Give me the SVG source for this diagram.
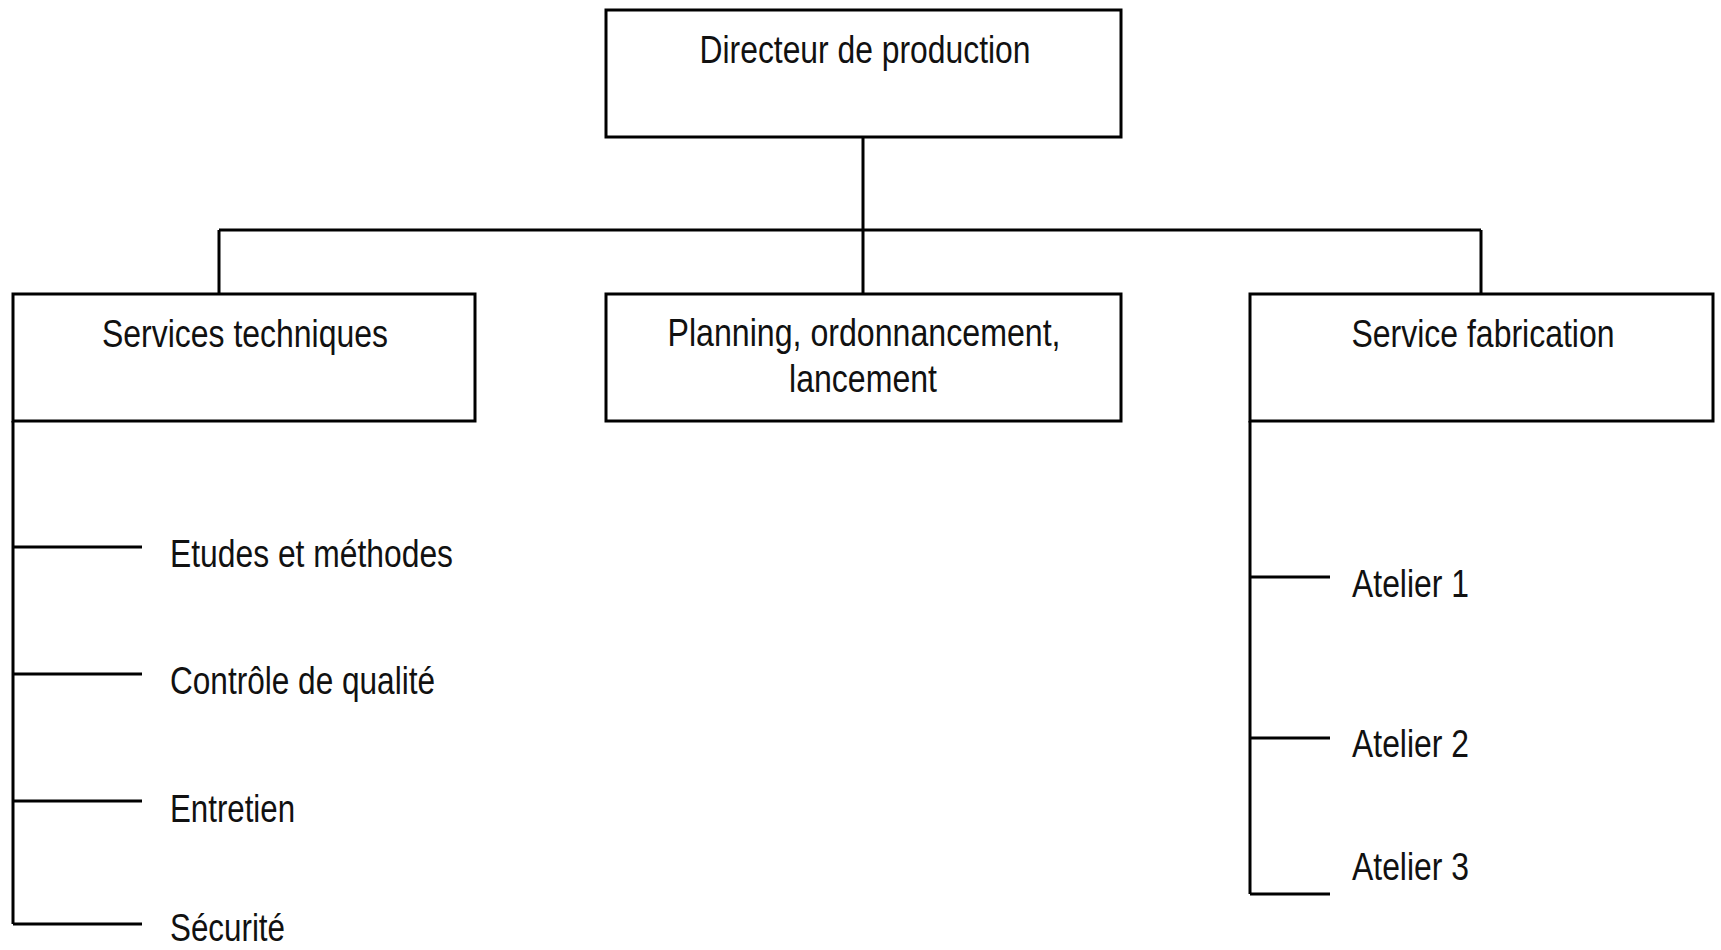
<svg xmlns="http://www.w3.org/2000/svg" width="1721" height="950" viewBox="0 0 1721 950">
<style>
.box{fill:#fff;stroke:#000;stroke-width:3}
.ln{fill:none;stroke:#000;stroke-width:3}
text{font-family:"Liberation Sans",Arial,sans-serif;font-size:38px;fill:#111}
.c{text-anchor:middle}
</style>
<rect width="1721" height="950" fill="#fff"/>
<g id="connectors">
<path class="ln" d="M863 137V230M219 230H1481M219 230V294M863 230V294M1481 230V294"/>
<path class="ln" d="M13 421V924M13 547H142M13 674H142M13 801H142M13 924H142"/>
<path class="ln" d="M1250 421V894M1250 577H1330M1250 738H1330M1250 894H1330"/>
</g>
<g id="directeur">
<rect class="box" x="606" y="10" width="515" height="127"/>
<text class="c" x="865" y="63" textLength="331" lengthAdjust="spacingAndGlyphs">Directeur de production</text>
</g>
<g id="services-techniques">
<rect class="box" x="13" y="294" width="462" height="127"/>
<text class="c" x="245" y="347" textLength="286" lengthAdjust="spacingAndGlyphs">Services techniques</text>
</g>
<g id="planning">
<rect class="box" x="606" y="294" width="515" height="127"/>
<text class="c" x="864" y="346" textLength="393" lengthAdjust="spacingAndGlyphs">Planning, ordonnancement,</text>
<text class="c" x="863" y="392" textLength="148" lengthAdjust="spacingAndGlyphs">lancement</text>
</g>
<g id="service-fabrication">
<rect class="box" x="1250" y="294" width="463" height="127"/>
<text class="c" x="1483" y="347" textLength="263" lengthAdjust="spacingAndGlyphs">Service fabrication</text>
</g>
<g id="etudes"><text x="170" y="567" textLength="283" lengthAdjust="spacingAndGlyphs">Etudes et méthodes</text></g>
<g id="controle"><text x="170" y="694" textLength="265" lengthAdjust="spacingAndGlyphs">Contrôle de qualité</text></g>
<g id="entretien"><text x="170" y="822" textLength="125" lengthAdjust="spacingAndGlyphs">Entretien</text></g>
<g id="securite"><text x="170" y="941" textLength="115" lengthAdjust="spacingAndGlyphs">Sécurité</text></g>
<g id="atelier1"><text x="1352" y="597" textLength="117" lengthAdjust="spacingAndGlyphs">Atelier 1</text></g>
<g id="atelier2"><text x="1352" y="757" textLength="117" lengthAdjust="spacingAndGlyphs">Atelier 2</text></g>
<g id="atelier3"><text x="1352" y="880" textLength="117" lengthAdjust="spacingAndGlyphs">Atelier 3</text></g>
</svg>
